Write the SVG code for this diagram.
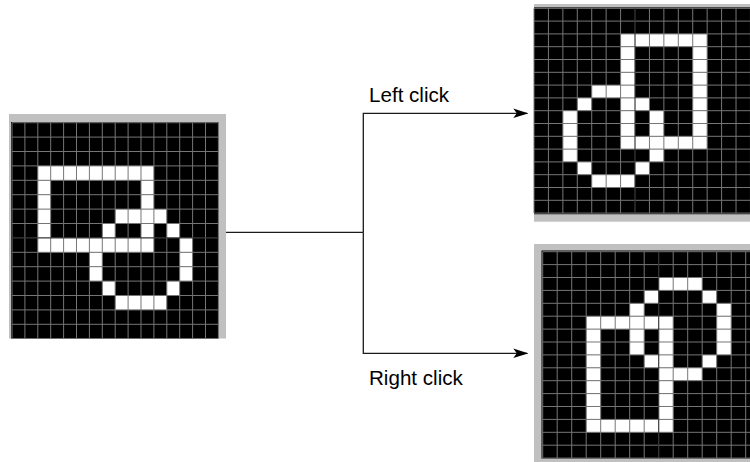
<svg xmlns="http://www.w3.org/2000/svg" width="750" height="462" viewBox="0 0 750 462">
<style>
.frame{fill:#c0c0c0}
.bg{fill:#000}
.on{fill:#fff}
.gl{fill:none;stroke:#767676;stroke-width:1;vector-effect:non-scaling-stroke}
.cl{fill:none;stroke:#3a3a3a;stroke-width:1.2;vector-effect:non-scaling-stroke}
.conn{fill:none;stroke:#1a1a1a;stroke-width:1.3}
.lbl{font-family:"Liberation Sans",Arial,sans-serif;font-size:20.6px;fill:#000}
</style>
<defs>
<marker id="arrow" viewBox="0 0 15 10" refX="14" refY="5" markerWidth="15" markerHeight="10" markerUnits="userSpaceOnUse" orient="auto">
<path d="M0,0.3 L15,5 L0,9.7 L3.5,5 Z" fill="#000"/>
</marker>
</defs>

<g id="original">
<rect class="frame" x="9" y="114" width="217" height="224.5"/>
<rect class="bg" x="11" y="122" width="207.5" height="216.5"/>
<g transform="translate(12,122.7) scale(12.9,14.4)">
<g class="on">
<rect x="2" y="3" width="9" height="1"/>
<rect x="2" y="4" width="1" height="1"/><rect x="10" y="4" width="1" height="1"/>
<rect x="2" y="5" width="1" height="1"/><rect x="10" y="5" width="1" height="1"/>
<rect x="2" y="6" width="1" height="1"/><rect x="8" y="6" width="4" height="1"/>
<rect x="2" y="7" width="1" height="1"/><rect x="7" y="7" width="1" height="1"/><rect x="10" y="7" width="1" height="1"/><rect x="12" y="7" width="1" height="1"/>
<rect x="2" y="8" width="9" height="1"/><rect x="13" y="8" width="1" height="1"/>
<rect x="6" y="9" width="1" height="1"/><rect x="13" y="9" width="1" height="1"/>
<rect x="6" y="10" width="1" height="1"/><rect x="13" y="10" width="1" height="1"/>
<rect x="7" y="11" width="1" height="1"/><rect x="12" y="11" width="1" height="1"/>
<rect x="8" y="12" width="4" height="1"/>
</g>
<path class="gl" d="M0 0V15M1 0V15M2 0V15M3 0V15M4 0V15M5 0V15M6 0V15M7 0V15M8 0V15M9 0V15M10 0V15M11 0V15M12 0V15M13 0V15M14 0V15M15 0V15M16 0V15M0 0H16M0 1H16M0 2H16M0 3H16M0 4H16M0 5H16M0 6H16M0 7H16M0 9H16M0 10H16M0 11H16M0 12H16M0 13H16M0 14H16"/>
<path class="cl" d="M0 8H16"/>
</g>
</g>

<g id="left-click-result">
<rect class="frame" x="534" y="4" width="216" height="3.5"/>
<rect class="frame" x="534" y="214.3" width="216" height="7.4"/>
<rect class="bg" x="534" y="7.3" width="216" height="207"/>
<g transform="translate(534,8.3) scale(14.43,12.8)">
<g class="on">
<rect x="6" y="2" width="6" height="1"/>
<rect x="6" y="3" width="1" height="1"/><rect x="11" y="3" width="1" height="1"/>
<rect x="6" y="4" width="1" height="1"/><rect x="11" y="4" width="1" height="1"/>
<rect x="6" y="5" width="1" height="1"/><rect x="11" y="5" width="1" height="1"/>
<rect x="4" y="6" width="3" height="1"/><rect x="11" y="6" width="1" height="1"/>
<rect x="3" y="7" width="1" height="1"/><rect x="6" y="7" width="2" height="1"/><rect x="11" y="7" width="1" height="1"/>
<rect x="2" y="8" width="1" height="1"/><rect x="6" y="8" width="1" height="1"/><rect x="8" y="8" width="1" height="1"/><rect x="11" y="8" width="1" height="1"/>
<rect x="2" y="9" width="1" height="1"/><rect x="6" y="9" width="1" height="1"/><rect x="8" y="9" width="1" height="1"/><rect x="11" y="9" width="1" height="1"/>
<rect x="2" y="10" width="1" height="1"/><rect x="6" y="10" width="6" height="1"/>
<rect x="2" y="11" width="1" height="1"/><rect x="8" y="11" width="1" height="1"/>
<rect x="3" y="12" width="1" height="1"/><rect x="7" y="12" width="1" height="1"/>
<rect x="4" y="13" width="3" height="1"/>
</g>
<path class="gl" d="M0 0V16M1 0V16M2 0V16M3 0V16M4 0V16M5 0V16M6 0V16M8 0V16M9 0V16M10 0V16M11 0V16M12 0V16M13 0V16M14 0V16M15 0V16M0 0H15M0 1H15M0 2H15M0 3H15M0 4H15M0 5H15M0 6H15M0 7H15M0 8H15M0 9H15M0 10H15M0 11H15M0 12H15M0 13H15M0 14H15M0 15H15M0 16H15"/>
<path class="cl" d="M7 0V16"/>
</g>
</g>

<g id="right-click-result">
<rect class="frame" x="534" y="244" width="216" height="218"/>
<rect class="bg" x="541.5" y="250.5" width="208.5" height="208"/>
<g transform="translate(542.7,251.7) scale(14.5,12.9)">
<g class="on">
<rect x="8" y="2" width="3" height="1"/>
<rect x="7" y="3" width="1" height="1"/><rect x="11" y="3" width="1" height="1"/>
<rect x="6" y="4" width="1" height="1"/><rect x="12" y="4" width="1" height="1"/>
<rect x="3" y="5" width="6" height="1"/><rect x="12" y="5" width="1" height="1"/>
<rect x="3" y="6" width="1" height="1"/><rect x="6" y="6" width="1" height="1"/><rect x="8" y="6" width="1" height="1"/><rect x="12" y="6" width="1" height="1"/>
<rect x="3" y="7" width="1" height="1"/><rect x="6" y="7" width="1" height="1"/><rect x="8" y="7" width="1" height="1"/><rect x="12" y="7" width="1" height="1"/>
<rect x="3" y="8" width="1" height="1"/><rect x="7" y="8" width="2" height="1"/><rect x="11" y="8" width="1" height="1"/>
<rect x="3" y="9" width="1" height="1"/><rect x="8" y="9" width="3" height="1"/>
<rect x="3" y="10" width="1" height="1"/><rect x="8" y="10" width="1" height="1"/>
<rect x="3" y="11" width="1" height="1"/><rect x="8" y="11" width="1" height="1"/>
<rect x="3" y="12" width="1" height="1"/><rect x="8" y="12" width="1" height="1"/>
<rect x="3" y="13" width="6" height="1"/>
</g>
<path class="gl" d="M0 0V16M1 0V16M2 0V16M3 0V16M4 0V16M5 0V16M6 0V16M7 0V16M9 0V16M10 0V16M11 0V16M12 0V16M13 0V16M14 0V16M15 0V16M0 0H15M0 1H15M0 2H15M0 3H15M0 4H15M0 5H15M0 6H15M0 7H15M0 8H15M0 9H15M0 10H15M0 11H15M0 12H15M0 13H15M0 14H15M0 15H15M0 16H15"/>
<path class="cl" d="M8 0V16"/>
</g>
</g>

<g id="connectors">
<path class="conn" d="M226 232.3H363.3"/>
<path class="conn" d="M363.3 232.3V113.3H527.3" marker-end="url(#arrow)"/>
<path class="conn" d="M363.3 232.3V353.3H527.3" marker-end="url(#arrow)"/>
</g>

<g id="labels">
<text class="lbl" x="369" y="101.7">Left click</text>
<text class="lbl" x="369" y="385">Right click</text>
</g>
</svg>
